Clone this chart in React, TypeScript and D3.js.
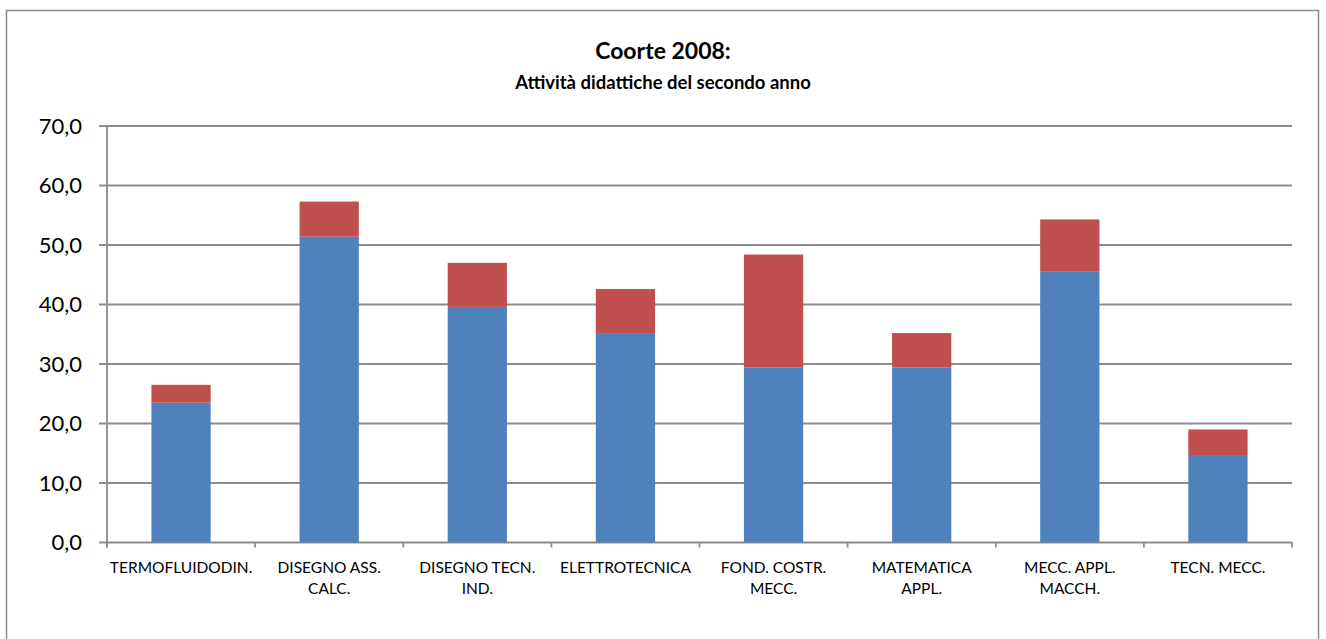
import React from "react";
import * as d3 from "d3";

const categories: string[][] = [
  ["TERMOFLUIDODIN."],
  ["DISEGNO ASS.", "CALC."],
  ["DISEGNO TECN.", "IND."],
  ["ELETTROTECNICA"],
  ["FOND. COSTR.", "MECC."],
  ["MATEMATICA", "APPL."],
  ["MECC. APPL.", "MACCH."],
  ["TECN. MECC."],
];
const seriesBlue = [23.5, 51.4, 39.6, 35.2, 29.4, 29.4, 45.6, 14.7];
const seriesRed = [3.0, 5.9, 7.4, 7.4, 19.0, 5.8, 8.7, 4.3];
const yTicks = [0, 10, 20, 30, 40, 50, 60, 70];
const titleMain = "Coorte 2008:";
const titleSub = "Attività didattiche del secondo anno";

const W = 1326;
const H = 639;
const left = 107;
const right = 1292;
const top = 126;
const bottom = 542.5;
const FONT = "Lato, 'Open Sans', sans-serif";

export default function App() {
  const x = d3
    .scaleBand<number>()
    .domain(d3.range(categories.length))
    .range([left, right])
    .paddingInner(0.6)
    .paddingOuter(0.3);
  const band = d3.scaleBand<number>().domain(d3.range(categories.length)).range([left, right]);
  const y = d3.scaleLinear().domain([0, 70]).range([bottom, top]);
  const fmt = (v: number) => v.toFixed(1).replace(".", ",");
  const grid = "#8c8c8c";

  return (
    <svg width={W} height={H} style={{ position: "absolute", left: 0, top: 0 }}>
      <rect x={0} y={0} width={W} height={H} fill="#fff" />
      <rect x={6.5} y={10.5} width={1312} height={640} fill="none" stroke="#8a8a8a" strokeWidth={1.5} />
      <text x={663} y={59} textAnchor="middle" fontFamily={FONT} fontWeight="bold" fontSize={23} fill="#000">
        {titleMain}
      </text>
      <text x={663} y={89} textAnchor="middle" fontFamily={FONT} fontWeight="bold" fontSize={18.5} fill="#000">
        {titleSub}
      </text>
      {yTicks.map((t) => (
        <g key={t}>
          <line x1={left - 8} x2={right} y1={y(t)} y2={y(t)} stroke={grid} strokeWidth={1.8} />
          <text
            x={82}
            y={y(t)}
            dy="0.35em"
            textAnchor="end"
            fontFamily={FONT}
            fontSize={22}
            fill="#000"
          >
            {fmt(t)}
          </text>
        </g>
      ))}
      <line x1={left} x2={left} y1={top} y2={bottom + 5} stroke={grid} strokeWidth={1.8} />
      {d3.range(categories.length + 1).map((i) => {
        const bx = i < categories.length ? band(i)! : right;
        return <line key={i} x1={bx} x2={bx} y1={bottom} y2={bottom + 5} stroke={grid} strokeWidth={1.8} />;
      })}
      {categories.map((c, i) => {
        const bx = x(i)!;
        const bw = x.bandwidth();
        const b = seriesBlue[i];
        const r = seriesRed[i];
        return (
          <g key={i}>
            <rect x={bx} y={y(b)} width={bw} height={y(0) - y(b)} fill="#4F81BD" />
            <rect x={bx} y={y(b + r)} width={bw} height={y(b) - y(b + r)} fill="#C0504D" />
          </g>
        );
      })}
      {categories.map((c, i) => (
        <text
          key={i}
          x={band(i)! + band.bandwidth() / 2}
          y={573}
          textAnchor="middle"
          fontFamily={FONT}
          fontSize={15.5}
          fill="#000"
        >
          {c.map((line, j) => (
            <tspan key={j} x={band(i)! + band.bandwidth() / 2} dy={j === 0 ? 0 : 21}>
              {line}
            </tspan>
          ))}
        </text>
      ))}
    </svg>
  );
}
